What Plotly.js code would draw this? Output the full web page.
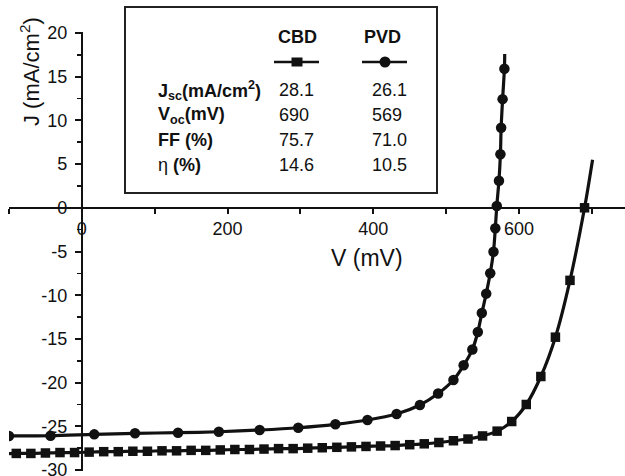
<!DOCTYPE html>
<html><head><meta charset="utf-8">
<script src="https://cdn.plot.ly/plotly-3.0.1.min.js"></script>
<style>html,body{margin:0;padding:0;background:#fff}#chart{width:625px;height:476px}</style>
</head><body><div id="chart"></div>
<script>
// ---- data ----
const cbdV = [-90,-70,-50,-30,-10,10,30,50,70,90,110,130,150,170,190,210,230,250,270,290,310,330,350,370,390,410,430,450,470,490,510,530,550,570,590,610,630,650,670,690];
const cbdJ = [-28.1,-28.1,-28.05,-28.0,-28.0,-27.95,-27.9,-27.9,-27.85,-27.85,-27.8,-27.8,-27.75,-27.75,-27.7,-27.65,-27.65,-27.6,-27.55,-27.55,-27.5,-27.45,-27.4,-27.35,-27.3,-27.25,-27.2,-27.1,-27.0,-26.85,-26.65,-26.45,-26.1,-25.55,-24.45,-22.5,-19.3,-14.8,-8.3,0.0];
const cbdEndV = [-100, 701];
const cbdEndJ = [-28.12, 5.5];

const pvdV = [-100,-43,17,73,132,188,244,297,348,392,432,464,489,510,524,536,543.5,549,555,560.5,565,567.5,569.5,572.5,574.5,575.5,577.5,580];
const pvdJ = [-26.1,-26.08,-25.92,-25.8,-25.73,-25.62,-25.42,-25.16,-24.77,-24.28,-23.59,-22.56,-21.25,-19.7,-18.02,-16.22,-14.21,-12.04,-9.82,-7.49,-5.02,-2.35,0.2,3.1,6.13,9.16,12.43,15.9];
const pvdEndV = [580.4];
const pvdEndJ = [17.6];

const seriesNames = ['CBD', 'PVD'];
const rowLabels = ['J<sub>sc</sub>(mA/cm<sup>2</sup>)', 'V<sub>oc</sub>(mV)', 'FF (%)', 'η <b>(%)</b>'];
const cbdParams = ['28.1', '690', '75.7', '14.6'];
const pvdParams = ['26.1', '569', '71.0', '10.5'];

const yTickVals = [-30,-25,-20,-15,-10,-5,0,5,10,15,20];
const yTickText = ['-30','-25','-20','-15','-10','-5','0','5','10','15','20'];
const xTitle = 'V (mV)';
const yTitle = 'J (mA/cm<sup>2</sup>)';

// ---- layout helpers ----
const L = 9, T = 32, W = 616, H = 439;
const px = v => (v - L) / W;
const py = v => (T + H - v) / H;
const xRange = [-100, 745.5];
const yRange = [-30.11, 20.11];
const FONT = 'Liberation Sans, Arial, Helvetica, sans-serif';
const INK = '#111';

const traces = [
  {x: [cbdEndV[0], ...cbdV, cbdEndV[1]], y: [cbdEndJ[0], ...cbdJ, cbdEndJ[1]], mode: 'lines',
   line: {color: INK, width: 3.2, shape: 'spline', smoothing: 0.8}, hoverinfo: 'skip'},
  {x: cbdV, y: cbdJ, mode: 'markers', name: seriesNames[0],
   marker: {symbol: 'square', size: 9.5, color: INK}},
  {x: [...pvdV, ...pvdEndV], y: [...pvdJ, ...pvdEndJ], mode: 'lines',
   line: {color: INK, width: 3.2, shape: 'spline', smoothing: 0.8}, hoverinfo: 'skip'},
  {x: pvdV, y: pvdJ, mode: 'markers', name: seriesNames[1],
   marker: {symbol: 'circle', size: 10.5, color: INK}}
];

const annotations = [];
const tf = (size, extra) => Object.assign({family: FONT, size: size, color: INK}, extra || {});
// axis titles
annotations.push({xref: 'paper', yref: 'paper', x: px(367), y: py(258), text: xTitle, showarrow: false,
  xanchor: 'center', yanchor: 'middle', font: tf(23)});
annotations.push({xref: 'paper', yref: 'paper', x: px(30), y: py(72), text: yTitle, showarrow: false,
  textangle: -90, xanchor: 'center', yanchor: 'middle', font: tf(22)});
// table headers
[297, 382].forEach((cx, i) => annotations.push({xref: 'paper', yref: 'paper', x: px(cx), y: py(37),
  text: '<b>' + seriesNames[i] + '</b>', showarrow: false, xanchor: 'center', yanchor: 'middle', font: tf(18)}));
const rowY = [90, 115, 140, 165];
rowLabels.forEach((lab, i) => {
  const t = lab.indexOf('<b>') >= 0 ? lab : '<b>' + lab + '</b>';
  annotations.push({xref: 'paper', yref: 'paper', x: px(156), y: py(rowY[i]), text: t, showarrow: false,
    xanchor: 'left', yanchor: 'middle', font: tf(18)});
  annotations.push({xref: 'paper', yref: 'paper', x: px(277), y: py(rowY[i]), text: cbdParams[i], showarrow: false,
    xanchor: 'left', yanchor: 'middle', font: tf(18)});
  annotations.push({xref: 'paper', yref: 'paper', x: px(370), y: py(rowY[i]), text: pvdParams[i], showarrow: false,
    xanchor: 'left', yanchor: 'middle', font: tf(18)});
});

const shapes = [
  {type: 'rect', xref: 'paper', yref: 'paper', x0: px(125), x1: px(437), y0: py(193), y1: py(7),
   line: {color: '#222', width: 2}, fillcolor: 'rgba(0,0,0,0)'},
  {type: 'line', xref: 'paper', yref: 'paper', x0: px(274), x1: px(319), y0: py(62), y1: py(62), line: {color: INK, width: 2.5}},
  {type: 'rect', xref: 'paper', yref: 'paper', x0: px(291.5), x1: px(302.5), y0: py(66.5), y1: py(57.5), line: {width: 0}, fillcolor: INK},
  {type: 'line', xref: 'paper', yref: 'paper', x0: px(362), x1: px(407), y0: py(62), y1: py(62), line: {color: INK, width: 2.5}},
  {type: 'circle', xref: 'paper', yref: 'paper', x0: px(379.5), x1: px(390.5), y0: py(67.5), y1: py(56.5), line: {width: 0}, fillcolor: INK}
];

const layout = {
  width: 625, height: 476,
  margin: {l: L, r: 625 - L - W, t: T, b: 476 - T - H, pad: 0},
  paper_bgcolor: '#fff', plot_bgcolor: '#fff',
  showlegend: false,
  font: {family: FONT, color: INK},
  xaxis: {
    range: xRange, anchor: 'free', position: (0 - yRange[0]) / (yRange[1] - yRange[0]),
    showgrid: false, zeroline: false, showline: true, linecolor: INK, linewidth: 2,
    tick0: 0, dtick: 200, ticks: 'outside', ticklen: 5, tickwidth: 2, tickcolor: INK,
    minor: {dtick: 100, tick0: 0, ticks: 'outside', ticklen: 5, tickwidth: 2, tickcolor: INK, showgrid: false},
    tickfont: {family: FONT, size: 18, color: INK}, ticklabeloverflow: 'allow', automargin: false, fixedrange: true
  },
  yaxis: {
    range: yRange, anchor: 'free', position: (0 - xRange[0]) / (xRange[1] - xRange[0]),
    showgrid: false, zeroline: false, showline: true, linecolor: INK, linewidth: 2,
    tickvals: yTickVals, ticktext: yTickText, ticks: 'outside', ticklen: 6, tickwidth: 2, tickcolor: INK,
    minor: {dtick: 2.5, tick0: 0, ticks: 'outside', ticklen: 4, tickwidth: 1.5, tickcolor: INK, showgrid: false},
    tickfont: {family: FONT, size: 18, color: INK}, ticklabelstandoff: 4, ticklabeloverflow: 'allow',
    automargin: false, fixedrange: true
  },
  annotations: annotations,
  shapes: shapes
};

Plotly.newPlot('chart', traces, layout, {staticPlot: true, displayModeBar: false});
</script>
</body></html>
